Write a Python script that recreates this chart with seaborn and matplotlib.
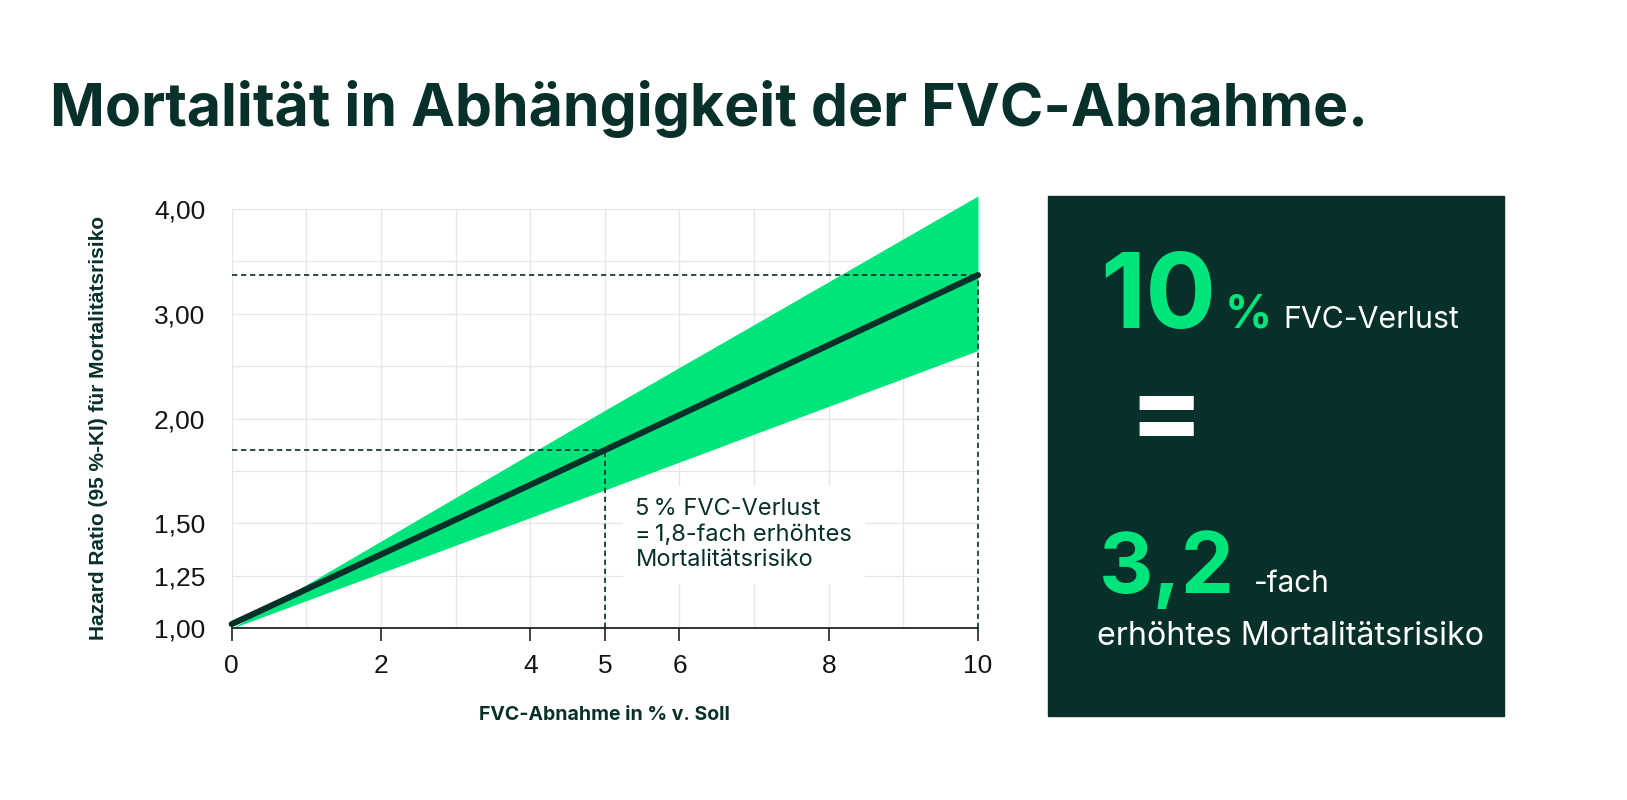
import numpy as np
import matplotlib
matplotlib.use("Agg")
import matplotlib.pyplot as plt
import seaborn as sns

# values
fvc_loss = [0, 5, 10]
hazard_ratio = [1.02, 1.85, 3.37]
ci_low = [1.0, 1.66, 2.65]
ci_high = [1.0, 2.08, 4.125]

y_ticks = [1.0, 1.25, 1.5, 2.0, 3.0, 4.0]
y_minor = [1.75, 2.5, 3.5]
x_ticks = [0, 2, 4, 5, 6, 8, 10]
x_minor = [1, 3, 7, 9]

title = "Mortalität in Abhängigkeit der FVC-Abnahme."
note = "5\u2009% FVC-Verlust\n=\u20091,8-fach erhöhtes\nMortalitätsrisiko"
W, H = 1627, 800
DARK = "#08302a"
GREEN = "#00e47c"

sns.set_theme(style="whitegrid")
plt.rcParams['font.family'] = ['Inter', 'DejaVu Sans']


def fwd(v):
    v = np.asarray(v, dtype=float)
    return np.where(v <= 2, (v - 1) * 4, 4 + (v - 2) * 2)


def inv(p):
    p = np.asarray(p, dtype=float)
    return np.where(p <= 4, 1 + p / 4, 2 + (p - 4) / 2)


def fx(x):
    return x / W


def fy(y):
    return 1 - y / H


def fit(t, width, renderer):
    w = t.get_window_extent(renderer).width
    t.set_fontsize(t.get_fontsize() * width / w)


fig = plt.figure(figsize=(W / 100, H / 100), dpi=100)
ax = fig.add_axes([fx(231.7), fy(628.3), (978 - 231.7) / W, (628.3 - 209) / H])
ax.set_yscale('function', functions=(fwd, inv))

ax.fill_between(fvc_loss, ci_low, ci_high, color=GREEN, lw=0, clip_on=False, zorder=2)

dash = (0, (3.2, 2.2))
for x, y in zip(fvc_loss[1:], hazard_ratio[1:]):
    ax.plot([0, x], [y, y], color=DARK, lw=1.2, ls=dash, zorder=3, clip_on=False)
    ax.plot([x, x], [1.0, y], color=DARK, lw=1.2, ls=dash, zorder=3, clip_on=False)

sns.lineplot(x=fvc_loss, y=hazard_ratio, ax=ax, color=DARK, lw=4.4, zorder=4)
ax.lines[-1].set_clip_on(False)

ax.set_xlim(0, 10)
ax.set_ylim(1.0, 4.0)
ax.set_yticks(y_ticks)
ax.set_yticks(y_minor, minor=True)
ax.set_yticklabels([f"{v:.2f}".replace(".", ",") for v in y_ticks])
ax.set_xticks(x_ticks)
ax.set_xticks(x_minor, minor=True)
ax.set_xticklabels([str(v) for v in x_ticks])
ax.grid(True, which='both', color='#e6e6e6', lw=0.9, zorder=0)
ax.set_axisbelow(True)

for s in ['left', 'right', 'top']:
    ax.spines[s].set_visible(False)
ax.spines['bottom'].set_color('#222222')
ax.spines['bottom'].set_linewidth(1.3)
ax.tick_params(axis='y', which='both', length=0, pad=19)
ax.tick_params(axis='x', which='major', length=9.5, width=1.3, color='#333333',
               direction='out', pad=9, bottom=True)
ax.tick_params(axis='x', which='minor', length=0)
for lab in ax.get_xticklabels() + ax.get_yticklabels():
    lab.set_fontfamily('Liberation Sans')
    lab.set_fontsize(19)
    lab.set_color('#141414')

ax.set_xlabel("FVC-Abnahme in % v. Soll", fontsize=14, fontweight='bold',
              color=DARK, labelpad=20)
ax.set_ylabel("Hazard Ratio (95 %-KI) für Mortalitätsrisiko", fontsize=15,
              fontweight='bold', color=DARK, family='Liberation Sans')
ax.yaxis.set_label_coords(-0.166, 0.478)

ax.text(5.41, 1.62, note, fontsize=17, color=DARK, va='top', ha='left',
        linespacing=1.2, zorder=5,
        bbox=dict(facecolor='white', edgecolor='none', pad=9))

# right panel
fig.patches.append(plt.Rectangle((fx(1048), fy(716)), (1504 - 1048) / W, (716 - 196) / H,
                                 transform=fig.transFigure, color=DARK, zorder=0))

r = fig.canvas.get_renderer()
t = fig.text(fx(50), fy(126), title, fontsize=45, fontweight='bold', color=DARK,
             va='baseline')
fit(t, 1318, r)

t = fig.text(fx(1100), fy(328), "10", fontsize=68, fontweight='bold', color=GREEN, va='baseline')
fit(t, 116, r)
t = fig.text(fx(1225), fy(328), "%", fontsize=40, fontweight='bold', color=GREEN, va='baseline')
fit(t, 47, r)
t = fig.text(fx(1283), fy(328), "FVC-Verlust", fontsize=22, color='white', va='baseline')
fit(t, 176, r)
t = fig.text(fx(1166), fy(420), "=", fontsize=80, fontweight='bold', color='white',
             va='center', ha='center')
t = fig.text(fx(1099), fy(593), "3,2", fontsize=68, fontweight='bold', color=GREEN, va='baseline')
fit(t, 136, r)
t = fig.text(fx(1254), fy(592), "-fach", fontsize=22, color='white', va='baseline')
fit(t, 76, r)
t = fig.text(fx(1097), fy(645), "erhöhtes Mortalitätsrisiko", fontsize=22, color='white',
             va='baseline')
fit(t, 386, r)

fig.savefig("out.png", dpi=100)
